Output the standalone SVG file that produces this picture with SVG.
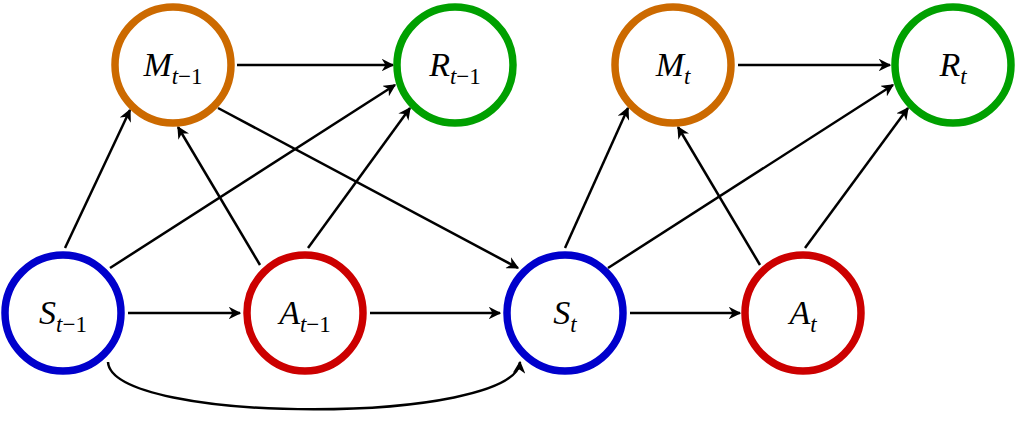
<svg xmlns="http://www.w3.org/2000/svg" width="1017" height="429" viewBox="0 0 1017 429">
<style>
.n{fill:#fff;stroke-width:7.5}
.o{stroke:#cc6a00}.g{stroke:#00a000}.b{stroke:#0000cc}.r{stroke:#cc0000}
text{font-family:"Liberation Serif","Times New Roman",serif;font-style:italic;font-size:34px;text-anchor:middle}
.s{font-size:23px}
.u{font-style:normal}
.e path,.e line{stroke:#000;stroke-width:2.5;fill:none;marker-end:url(#a)}
</style>
<defs><marker id="a" viewBox="0 0 10 10" refX="9" refY="5" markerWidth="5" markerHeight="5" orient="auto" markerUnits="strokeWidth"><path d="M0,0L10,5L0,10L3,5z" fill="#000"/></marker></defs>
<g class="e">
<line x1="237" y1="65" x2="393" y2="65"/>
<line x1="65" y1="248" x2="130" y2="110"/>
<line x1="110" y1="268" x2="395" y2="85"/>
<line x1="260" y1="265" x2="178" y2="127"/>
<line x1="308" y1="248" x2="410" y2="108"/>
<line x1="218" y1="108" x2="518" y2="268"/>
<line x1="128" y1="313" x2="240" y2="313"/>
<line x1="370" y1="313" x2="500" y2="313"/>
<path d="M108,362 C112,425 515,425 520,362"/>
<line x1="738" y1="65" x2="890" y2="65"/>
<line x1="565" y1="248" x2="628" y2="108"/>
<line x1="608" y1="268" x2="893" y2="85"/>
<line x1="760" y1="265" x2="678" y2="127"/>
<line x1="805" y1="248" x2="908" y2="108"/>
<line x1="630" y1="313" x2="740" y2="313"/>
</g>
<g id="Mt1"><circle class="n o" cx="173" cy="65" r="58"/><text x="173" y="76">M<tspan class="s" dy="8">t<tspan class="u">−1</tspan></tspan></text></g>
<g id="Rt1"><circle class="n g" cx="455" cy="65" r="58"/><text x="455" y="76">R<tspan class="s" dy="8">t<tspan class="u">−1</tspan></tspan></text></g>
<g id="Mt"><circle class="n o" cx="673" cy="65" r="58"/><text x="673" y="76">M<tspan class="s" dy="8">t</tspan></text></g>
<g id="Rt"><circle class="n g" cx="953" cy="65" r="58"/><text x="953" y="76">R<tspan class="s" dy="8">t</tspan></text></g>
<g id="St1"><circle class="n b" cx="63" cy="313" r="58"/><text x="63" y="324">S<tspan class="s" dy="8">t<tspan class="u">−1</tspan></tspan></text></g>
<g id="At1"><circle class="n r" cx="305" cy="313" r="58"/><text x="305" y="324">A<tspan class="s" dy="8">t<tspan class="u">−1</tspan></tspan></text></g>
<g id="St"><circle class="n b" cx="565" cy="313" r="58"/><text x="565" y="324">S<tspan class="s" dy="8">t</tspan></text></g>
<g id="At"><circle class="n r" cx="803" cy="313" r="58"/><text x="803" y="324">A<tspan class="s" dy="8">t</tspan></text></g>
</svg>
